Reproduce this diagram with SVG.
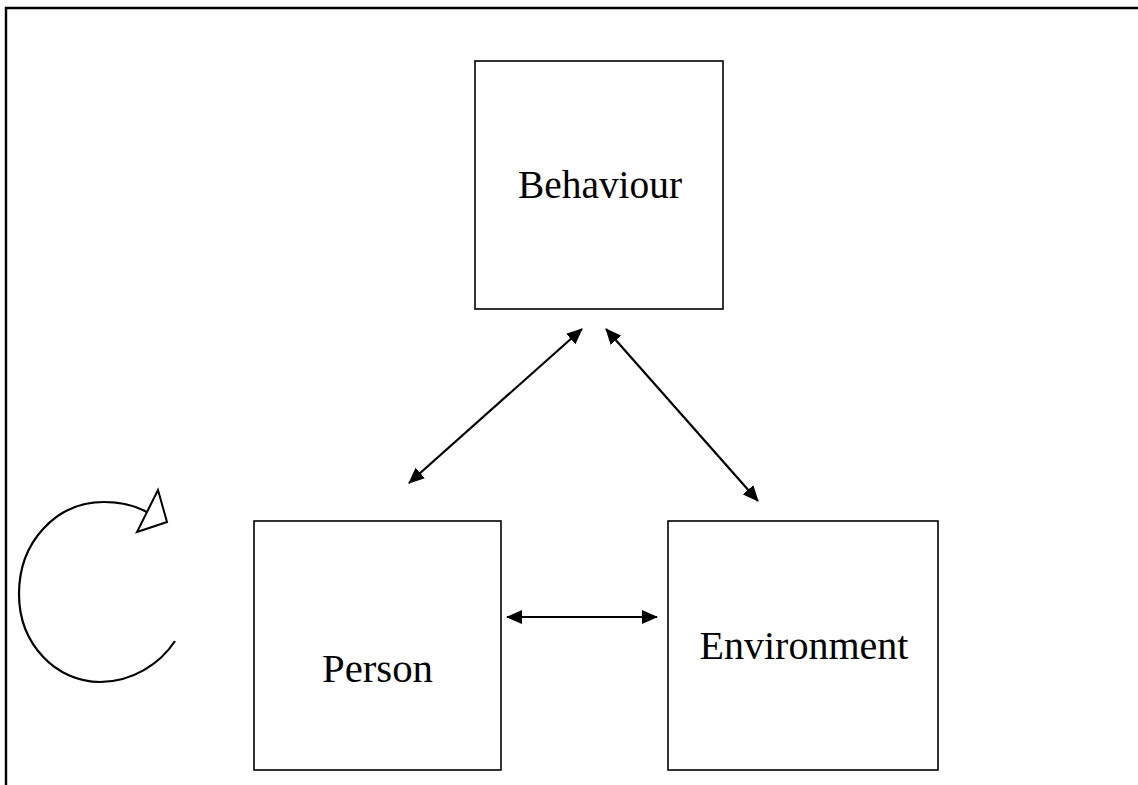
<svg xmlns="http://www.w3.org/2000/svg" width="1138" height="785" viewBox="0 0 1138 785">
<style>
.box{fill:#fff;stroke:#000;stroke-width:1.6}
.lbl{font-family:"Liberation Serif","Times New Roman",serif;font-size:39px;fill:#000;text-anchor:middle}
.con{stroke:#000;stroke-width:2.2;fill:none}
</style>
<defs>
<marker id="ah" viewBox="0 0 16 14" refX="15" refY="7" markerWidth="16" markerHeight="14" markerUnits="userSpaceOnUse" orient="auto-start-reverse">
<path d="M0,0 L16,7 L0,14 Z" fill="#000"/>
</marker>
</defs>
<rect width="1138" height="785" fill="#fff"/>
<g id="frame">
<path d="M6,785 L6,8 L1138,8" fill="none" stroke="#000" stroke-width="2.4"/>
</g>
<g id="behaviour">
<rect class="box" x="475" y="61" width="248" height="248"/>
<text class="lbl" x="600" y="198" textLength="164" lengthAdjust="spacingAndGlyphs">Behaviour</text>
</g>
<g id="person">
<rect class="box" x="254" y="521" width="247" height="249"/>
<text class="lbl" x="377.5" y="682" textLength="111" lengthAdjust="spacingAndGlyphs">Person</text>
</g>
<g id="environment">
<rect class="box" x="668" y="521" width="270" height="249"/>
<text class="lbl" x="804" y="659" textLength="209" lengthAdjust="spacingAndGlyphs">Environment</text>
</g>
<g id="connectors">
<line class="con" x1="409" y1="483" x2="582" y2="329" marker-start="url(#ah)" marker-end="url(#ah)"/>
<line class="con" x1="606" y1="329" x2="758" y2="501" marker-start="url(#ah)" marker-end="url(#ah)"/>
<line class="con" x1="507" y1="617" x2="657" y2="617" marker-start="url(#ah)" marker-end="url(#ah)"/>
</g>
<g id="cycle">
<path class="con" d="M147,512 C134,505 120,502 104,502 C56,502 19,542 19,594 C19,644 56,682 100,682 C132,682 160,664 175,641"/>
<polygon points="158,490 167,522 137,532" fill="#fff" stroke="#000" stroke-width="2" stroke-linejoin="miter"/>
</g>
</svg>
